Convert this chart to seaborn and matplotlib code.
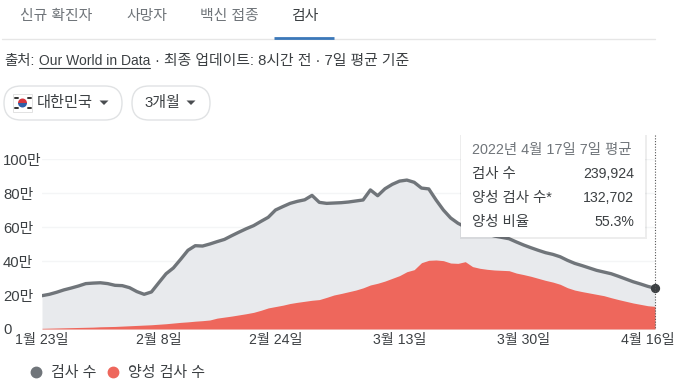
import numpy as np
import pandas as pd
import seaborn as sns
import matplotlib.pyplot as plt
from matplotlib.lines import Line2D
from matplotlib.patches import FancyBboxPatch, Rectangle, Wedge

sns.set_style("white")
plt.rcParams['font.family'] = ['Liberation Sans', 'Noto Sans CJK KR', 'DejaVu Sans']

# daily values, unit = 10,000 (만)
tests = [19.6, 20.4, 21.6, 23.0, 24.1, 25.3, 26.7, 27.0, 27.2, 26.7, 25.7, 25.5, 24.3, 22.0, 20.4,
         21.8, 27.2, 32.5, 35.9, 41.0, 46.3, 49.0, 48.8, 50.0, 51.4, 52.7, 54.9, 57.0, 59.0, 60.8,
         63.3, 65.7, 70.0, 72.0, 73.9, 75.1, 76.0, 78.6, 74.5, 73.9, 74.1, 74.3, 74.7, 75.3, 75.9,
         81.8, 78.4, 82.5, 85.1, 87.0, 87.6, 86.3, 82.9, 82.4, 75.9, 70.0, 65.3, 62.2, 60.0, 58.8,
         57.3, 55.9, 54.7, 53.9, 53.1, 51.2, 49.4, 47.8, 46.3, 44.9, 43.9, 42.5, 40.4, 38.6, 37.3,
         35.9, 34.5, 33.5, 32.5, 31.0, 29.4, 27.8, 26.5, 25.1, 24.0]
positive = [0.4, 0.5, 0.6, 0.7, 0.8, 0.9, 1.0, 1.1, 1.3, 1.4, 1.5, 1.7, 1.9, 2.1, 2.3,
            2.5, 2.8, 3.1, 3.5, 3.9, 4.2, 4.6, 4.9, 5.3, 6.4, 7.0, 7.6, 8.3, 9.0, 9.8,
            11.0, 12.4, 13.2, 14.0, 15.0, 15.7, 16.3, 16.9, 17.3, 18.6, 20.0, 20.9, 21.9, 22.9, 24.2,
            25.9, 26.9, 28.2, 29.8, 31.4, 33.7, 34.9, 39.0, 40.4, 40.6, 40.2, 38.8, 38.6, 39.6, 36.7,
            35.7, 35.1, 34.7, 34.5, 34.3, 32.9, 32.0, 31.0, 29.8, 28.6, 27.6, 26.3, 24.3, 22.9, 22.0,
            21.2, 20.4, 19.6, 18.4, 17.3, 16.3, 15.3, 14.5, 13.7, 13.3]
y_ticks = [0, 20, 40, 60, 80, 100]
y_labels = ["0", "20만", "40만", "60만", "80만", "100만"]
x_ticks = ["2022-01-23", "2022-02-08", "2022-02-24", "2022-03-13", "2022-03-30", "2022-04-16"]
x_labels = ["1월 23일", "2월 8일", "2월 24일", "3월 13일", "3월 30일", "4월 16일"]
tabs = ["신규 확진자", "사망자", "백신 접종", "검사"]
tooltip_names = ["검사 수", "양성 검사 수*", "양성 비율"]
tooltip_values = ["239,924", "132,702", "55.3%"]

df = pd.DataFrame({"date": pd.date_range("2022-01-23", periods=len(tests)),
                   "tests": tests, "positive": positive})

W, H = 683, 389
GREY = "#70757a"
RED = "#ee675c"
TEXT = "#3c4043"

fig = plt.figure(figsize=(W / 100, H / 100), dpi=100)
ax = fig.add_axes([42 / W, 1 - 329 / H, 613 / W, 170 / H])

ax.fill_between(df["date"], df["tests"], color="#e8eaed", lw=0)
ax.fill_between(df["date"], df["positive"], color=RED, lw=0)
sns.lineplot(data=df, x="date", y="tests", color=GREY, lw=2.4, ax=ax, legend=False)
ax.scatter(df["date"].iloc[-1], df["tests"].iloc[-1], s=32, color=TEXT, zorder=5, clip_on=False)

ax.set_xlim(df["date"].iloc[0], df["date"].iloc[-1])
ax.set_ylim(0, 100)
ax.set_xlabel("")
ax.set_ylabel("")
ax.set_yticks(y_ticks)
ax.set_yticklabels(y_labels, ha="left", fontsize=10.7, color=TEXT)
ax.set_xticks(pd.to_datetime(x_ticks))
ax.set_xticklabels(x_labels, fontsize=10.2, color=TEXT)
ax.tick_params(axis="y", length=0, pad=28)
ax.tick_params(axis="x", length=0, pad=3)
ax.grid(axis="y", color="#f4f5f6", lw=1)
ax.set_axisbelow(True)
sns.despine(ax=ax, left=True, bottom=True, top=True, right=True)

# page parts around the chart, in pixels
ov = fig.add_axes([0, 0, 1, 1], zorder=10)
ov.set_xlim(0, W)
ov.set_ylim(H, 0)
ov.axis("off")
ov.patch.set_alpha(0)

# tabs
for name, x, col in zip(tabs, [20, 126, 200, 291], ["#70757a", "#70757a", "#70757a", TEXT]):
    ov.text(x, 15.5, name, fontsize=10.7, color=col, va="center", ha="left")
ov.plot([2, 655], [39, 39], color="#e6e6e6", lw=1)
ov.plot([274, 334], [38, 38], color="#3b78b9", lw=2, solid_capstyle="butt")

# source line
ov.text(4, 61, "출처:", fontsize=10.4, color=TEXT, va="center")
ov.text(39, 61, "Our World in Data", fontsize=10, color=TEXT, va="center")
ov.plot([39, 150], [68, 68], color=TEXT, lw=0.8)
ov.text(155, 61, "· 최종 업데이트: 8시간 전 · 7일 평균 기준", fontsize=10.7, color=TEXT, va="center")

# dropdown buttons
for x0, x1 in [(4, 122), (132, 210)]:
    ov.add_patch(FancyBboxPatch((x0, 86), x1 - x0, 34, boxstyle="round,pad=0,rounding_size=17",
                                fc="white", ec="#e0e2e4", lw=1))
ov.text(37, 103, "대한민국", fontsize=11, color=TEXT, va="center")
ov.text(144, 103, "3개월", fontsize=10.8, color=TEXT, va="center")
for cx in [104, 191]:
    ov.fill([cx - 4.5, cx + 4.5, cx], [100.5, 100.5, 105], color="#4a4d50", lw=0)

# flag
ov.add_patch(Rectangle((13, 94), 19, 18, fc="white", ec="#dddddd", lw=0.6))
ov.add_patch(Wedge((22.5, 103), 4.5, 0, 180, fc="#2f5fa8", lw=0))
ov.add_patch(Wedge((22.5, 103), 4.5, 180, 360, fc="#d8363f", lw=0))
for fx, fy in [(16, 98), (29, 98), (16, 108), (29, 108)]:
    ov.plot([fx - 1.5, fx + 1.5], [fy, fy], color="#333333", lw=1.4)

# hover line and tooltip
ov.plot([655, 655], [135, 329], color="#555555", lw=0.8, ls=(0, (1, 1.5)))
ov.add_patch(Rectangle((459.5, 135), 187, 104, fc="#000000", alpha=0.07, lw=0))
ov.add_patch(Rectangle((461, 135), 184, 102, fc="white", lw=0))
ov.text(472, 150, "2022년 4월 17일 7일 평균", fontsize=10.4, color="#70757a", va="center")
for name, val, y in zip(tooltip_names, tooltip_values, [174, 198, 222]):
    ov.text(472, y, name, fontsize=10.4, color=TEXT, va="center")
    ov.text(634, y, val, fontsize=10.2, color=TEXT, va="center", ha="right")

# legend
handles = [Line2D([], [], ls="", marker="o", ms=7.5, color=GREY),
           Line2D([], [], ls="", marker="o", ms=7.5, color=RED)]
ov.legend(handles, ["검사 수", "양성 검사 수"], ncol=2, frameon=False, fontsize=10.8,
          loc="center left", bbox_to_anchor=(21, 373), bbox_transform=ov.transData,
          handletextpad=0.0, columnspacing=0.1, labelcolor=TEXT, borderpad=0, borderaxespad=0)

fig.savefig("out.png", dpi=100)
